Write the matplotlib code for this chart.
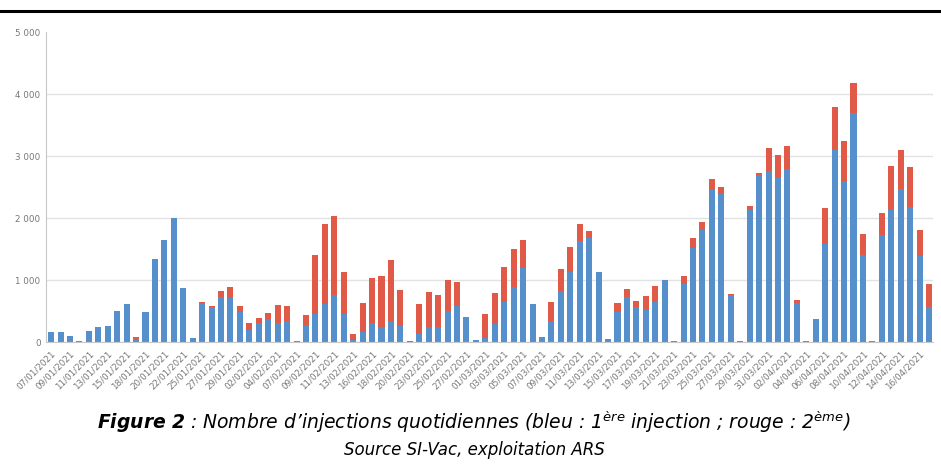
import matplotlib.pyplot as plt
from matplotlib.lines import Line2D
from matplotlib.ticker import FuncFormatter
import numpy as np


# Jours affichés (quelques jours sans saisie sont absents de la série)
jours = [
    "07/01", "08/01", "09/01", "10/01", "11/01", "12/01", "13/01", "14/01", "15/01", "16/01",
    "18/01", "19/01", "20/01", "21/01", "22/01", "23/01", "25/01", "26/01", "27/01", "28/01",
    "29/01", "30/01", "02/02", "03/02", "04/02", "05/02", "07/02", "08/02", "09/02", "10/02",
    "11/02", "12/02", "13/02", "15/02", "16/02", "17/02", "18/02", "19/02", "20/02", "22/02",
    "23/02", "24/02", "25/02", "26/02", "27/02", "28/02", "01/03", "02/03", "03/03", "04/03",
    "05/03", "06/03", "07/03", "08/03", "09/03", "10/03", "11/03", "12/03", "13/03", "14/03",
    "15/03", "16/03", "17/03", "18/03", "19/03", "20/03", "21/03", "22/03", "23/03", "24/03",
    "25/03", "26/03", "27/03", "28/03", "29/03", "30/03", "31/03", "01/04", "02/04", "03/04",
    "04/04", "05/04", "06/04", "07/04", "08/04", "09/04", "10/04", "11/04", "12/04", "13/04",
    "14/04", "15/04", "16/04", "17/04",
]

# 1ere injection (bleu)
premiere = [
    160, 165, 95, 15, 190, 245, 260, 505, 610, 60,
    485, 1350, 1650, 2000, 880, 70, 640, 565, 730, 725,
    485, 200, 315, 380, 315, 350, 25, 275, 450, 610,
    765, 450, 45, 165, 315, 240, 340, 265, 10, 135,
    240, 240, 505, 590, 405, 30, 75, 300, 655, 890,
    1205, 615, 80, 340, 830, 1130, 1630, 1690, 1130, 55,
    485, 725, 570, 545, 645, 1000, 18, 940, 1520, 1810,
    2475, 2385, 765, 18, 2130, 2700, 2765, 2670, 2800, 630,
    18, 380, 1580, 3100, 2600, 3705, 1410, 18, 1730, 2135,
    2470, 2190, 1400, 575,
]

# 2eme injection (rouge)
seconde = [
    0, 0, 0, 0, 0, 0, 0, 0, 0, 20,
    0, 0, 0, 0, 0, 0, 15, 15, 90, 165,
    95, 115, 85, 85, 285, 235, 0, 165, 955, 1300,
    1270, 690, 85, 470, 730, 830, 985, 575, 15, 485,
    565, 520, 495, 380, 0, 0, 380, 490, 555, 615,
    450, 0, 0, 310, 345, 410, 285, 105, 0, 0,
    155, 130, 95, 205, 260, 0, 0, 130, 160, 135,
    160, 120, 15, 0, 65, 30, 365, 355, 365, 55,
    0, 0, 585, 695, 650, 475, 345, 0, 350, 715,
    625, 630, 415, 360,
]

bleu = "#5690cc"
rouge = "#e05a47"
gris = "#777777"

fig = plt.figure(figsize=(9.41, 4.66), dpi=100)
ax = fig.add_axes([0.049, 0.2654, 0.9425, 0.6653])

x = np.arange(len(jours))
ax.bar(x, premiere, width=0.64, color=bleu, zorder=2)
ax.bar(x, seconde, width=0.64, bottom=premiere, color=rouge, zorder=2)

ax.set_xlim(-0.53, len(jours) - 0.58)
ax.set_ylim(0, 5000)
ax.set_yticks([0, 1000, 2000, 3000, 4000, 5000])
ax.yaxis.set_major_formatter(FuncFormatter(lambda v, p: f"{int(v):,}".replace(",", " ")))
ax.grid(axis="y", color="#e2e2e2", lw=1, zorder=0)
ax.yaxis.get_gridlines()[-1].set_visible(False)

ax.set_xticks(x[::2])
ax.set_xticklabels([j + "/2021" for j in jours[::2]], rotation=45, ha="right",
                   rotation_mode="anchor", fontsize=6.3, color=gris)
ax.tick_params(axis="x", length=0, pad=5)
ax.tick_params(axis="y", length=0, pad=4, labelsize=6.3, labelcolor=gris)

for side in ["top", "right"]:
    ax.spines[side].set_visible(False)
ax.spines["left"].set_color("#c8c8c8")
ax.spines["bottom"].set_color("#c8c8c8")

# trait noir en haut de la page
fig.add_artist(Line2D([0, 1], [0.9764, 0.9764], transform=fig.transFigure, color="black", lw=2.2))

# Légende de la figure
plt.rcParams["mathtext.fontset"] = "custom"
plt.rcParams["mathtext.rm"] = "DejaVu Sans:italic"
plt.rcParams["mathtext.bf"] = "DejaVu Sans:italic:bold"
titre = (r"$\mathbf{Figure\ 2}$ : Nombre d’injections quotidiennes (bleu : 1$^{\mathrm{ère}}$"
         r" injection ; rouge : 2$^{\mathrm{ème}}$)")
fig.text(0.504, 0.095, titre, ha="center", va="center", fontsize=13.5,
         family="DejaVu Sans", style="italic")
fig.text(0.504, 0.034, "Source SI-Vac, exploitation ARS", ha="center", va="center",
         fontsize=12, family="DejaVu Sans", style="italic")

fig.savefig("out.png", dpi=100)
